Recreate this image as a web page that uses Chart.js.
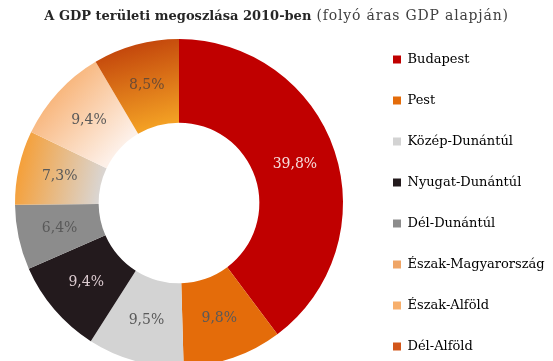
<!DOCTYPE html>
<html>
<head>
<meta charset="utf-8">
<script src="https://cdn.jsdelivr.net/npm/chart.js@4.4.0/dist/chart.umd.min.js"></script>
<style>
  html, body { margin: 0; padding: 0; background: #ffffff; overflow: hidden; width: 553px; height: 361px; }
  #wrap { position: absolute; left: -7px; top: 0; width: 560px; height: 386px; }
</style>
</head>
<body>
<div id="wrap"><canvas id="gdp"></canvas></div>
<script>
// Regional shares of Hungarian GDP, 2010 (current prices), in percent
const regions = ['Budapest', 'Pest', 'Közép-Dunántúl', 'Nyugat-Dunántúl', 'Dél-Dunántúl',
                 'Észak-Magyarország', 'Észak-Alföld', 'Dél-Alföld'];
const gdpShare = [39.8, 9.8, 9.5, 9.4, 6.4, 7.3, 9.4, 8.5];

// Slice fills: a plain colour, or [outer, inner] for a shaded slice
const sliceColors = ['#C00000', '#E46C0A', '#D3D3D3', '#231A1D', '#8C8C8C',
                     ['#F5A03A', '#DAD5D1'], ['#F8B77E', '#FDF0E8'], ['#C4480C', '#F3A024']];
const legendColors = ['#C00000', '#E46C0A', '#D3D3D3', '#231A1D', '#8C8C8C',
                      '#EFA566', '#F7AF6C', '#D2561A'];
const valueColors = ['#F6DEDE', '#595959', '#595959', '#DCCBD0', '#595959',
                     '#595959', '#595959', '#6A4A34'];

const OUTER_R = 164;
const CUTOUT = '49%';
const X_SHIFT = 7; // the canvas sits 7px left of the page edge

const serif = 'DejaVu Serif';
const fmt = v => v.toFixed(1).replace('.', ',') + '%';

function sliceFill(c) {
  const spec = sliceColors[c.dataIndex];
  if (typeof spec === 'string') return spec;
  const chart = c.chart, area = chart.chartArea;
  if (!area) return spec[0];
  const cx = (area.left + area.right) / 2, cy = (area.top + area.bottom) / 2;
  const total = gdpShare.reduce((a, b) => a + b, 0);
  let before = 0;
  for (let k = 0; k < c.dataIndex; k++) before += gdpShare[k];
  const mid = (before + gdpShare[c.dataIndex] / 2) / total * Math.PI * 2 - Math.PI / 2;
  const inner = OUTER_R * 0.49;
  const g = chart.ctx.createLinearGradient(
    cx + Math.cos(mid) * OUTER_R, cy + Math.sin(mid) * OUTER_R,
    cx + Math.cos(mid) * inner, cy + Math.sin(mid) * inner);
  g.addColorStop(0, spec[0]);
  g.addColorStop(1, spec[1]);
  return g;
}

// Percent labels in the middle of each ring segment
const sliceLabels = {
  id: 'sliceLabels',
  afterDatasetsDraw(chart) {
    const ctx = chart.ctx;
    const meta = chart.getDatasetMeta(0);
    ctx.save();
    ctx.font = '14px "' + serif + '"';
    ctx.textAlign = 'center';
    ctx.textBaseline = 'middle';
    meta.data.forEach((arc, i) => {
      const p = arc.tooltipPosition();
      ctx.fillStyle = valueColors[i];
      ctx.fillText(fmt(gdpShare[i]), p.x, p.y);
    });
    ctx.restore();
  }
};

// Heading: bold main part followed by a regular note
const heading = {
  id: 'heading',
  afterDraw(chart) {
    const ctx = chart.ctx;
    const main = 'A GDP területi megoszlása 2010-ben';
    const note = ' (folyó áras GDP alapján)';
    ctx.save();
    ctx.textBaseline = 'alphabetic';
    ctx.textAlign = 'left';
    const fMain = 'bold 13px "' + serif + '"';
    const fNote = '14px "' + serif + '"';
    ctx.font = fMain;
    const w1 = ctx.measureText(main).width;
    ctx.font = fNote;
    if ('letterSpacing' in ctx) ctx.letterSpacing = '0.8px';
    const w2 = ctx.measureText(note).width;
    const x0 = 276.5 + X_SHIFT - (w1 + w2) / 2;
    ctx.fillStyle = '#404040';
    ctx.fillText(note, x0 + w1, 20);
    if ('letterSpacing' in ctx) ctx.letterSpacing = '0px';
    ctx.fillStyle = '#262626';
    ctx.font = fMain;
    ctx.fillText(main, x0, 20);
    ctx.restore();
  }
};

new Chart(document.getElementById('gdp'), {
  type: 'doughnut',
  data: {
    labels: regions,
    datasets: [{
      data: gdpShare,
      backgroundColor: sliceFill,
      borderWidth: 0,
      clip: false
    }]
  },
  options: {
    responsive: true,
    maintainAspectRatio: false,
    devicePixelRatio: 1,
    animation: false,
    radius: OUTER_R,
    cutout: CUTOUT,
    layout: { padding: { top: 20, bottom: 0, left: 0, right: 0 } },
    events: [],
    plugins: {
      title: { display: false },
      tooltip: { enabled: false },
      legend: {
        position: 'right',
        align: 'center',
        maxWidth: 188,
        labels: {
          boxWidth: 8,
          boxHeight: 8,
          padding: 28,
          color: '#595959',
          font: { family: serif, size: 13 },
          generateLabels: () => regions.map((r, i) => ({
            text: r,
            fillStyle: legendColors[i],
            strokeStyle: legendColors[i],
            lineWidth: 0,
            hidden: false,
            index: i
          }))
        }
      }
    }
  },
  plugins: [sliceLabels, heading]
});
</script>
</body>
</html>
